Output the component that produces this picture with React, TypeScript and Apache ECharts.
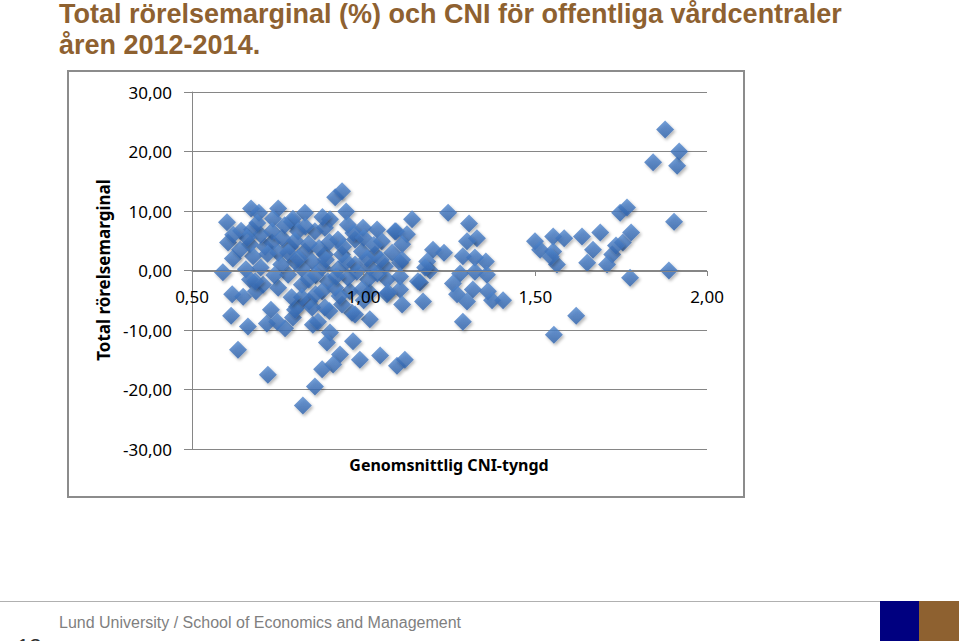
import React, { useEffect, useRef } from 'react';
import * as echarts from 'echarts';

const titleLine1 = 'Total rörelsemarginal (%) och CNI för offentliga vårdcentraler';
const titleLine2 = 'åren 2012-2014.';
const yAxisName = 'Total rörelsemarginal';
const xAxisName = 'Genomsnittlig CNI-tyngd';
const footerText = 'Lund University / School of Economics and Management';
const pageNumber = '12';

const xMin = 0.5;
const xMax = 2.0;
const xStep = 0.5;
const yMin = -30;
const yMax = 30;
const yStep = 10;

const clusterLeft: [number, number][] = [
  [0.602, 8.1], [0.672, 10.4], [0.695, 9.7], [0.751, 10.4], [0.736, 8.7], [0.829, 9.7], [0.794, 8.7],
  [0.917, 12.3], [0.937, 13.3], [0.949, 9.9], [0.643, 6.7], [0.675, 6.9], [0.605, 4.7], [0.619, 2.0],
  [0.590, -0.3], [0.657, 0.2], [0.669, -1.5], [0.617, -4.0], [0.649, -4.4], [0.686, -3.5], [0.707, -2.4],
  [0.751, -2.9], [0.614, -7.6], [0.663, -9.4], [0.718, -8.9], [0.730, -6.6], [0.748, -8.6], [0.771, -9.7],
  [0.806, -6.1], [0.794, -7.9], [0.841, -5.2], [0.852, -9.1], [0.902, -10.4], [0.893, -12.1], [0.969, -11.9],
  [0.931, -14.1], [0.911, -15.8], [0.879, -16.6], [0.989, -15.0], [1.048, -14.3], [1.097, -16.0], [1.120, -15.0],
  [0.634, -13.3], [0.721, -17.5], [0.858, -19.5], [0.823, -22.7], [0.966, -7.1], [1.018, -8.2], [1.018, -3.7],
  [0.960, -3.5], [0.669, 4.4], [0.713, 4.0], [0.678, 2.4], [0.733, 4.7], [0.684, -1.8], [0.800, -6.6],
  [0.780, -0.7], [0.800, 1.5], [0.820, -2.4], [0.820, -4.5], [0.850, -6.2], [0.751, 3.0], [0.785, 4.0],
  [0.829, 3.2], [0.850, 1.5], [0.791, 8.2], [0.858, 6.6], [0.809, 6.6], [0.733, 6.6], [0.762, 5.5],
  [0.902, 8.6], [0.887, 7.2], [0.954, 7.7], [0.998, 7.2], [1.039, 6.9], [1.091, 6.6], [0.925, 5.2],
  [0.975, 5.2], [1.053, 4.9], [0.887, 2.7], [0.937, 2.7], [0.995, 3.2], [1.033, 2.7], [1.083, 3.0],
  [1.106, 1.3], [0.879, 0.5], [0.925, 0.2], [0.975, 1.0], [1.018, 0.5], [1.062, 0.7], [0.896, -1.8],
  [0.954, -1.2], [1.013, -1.5], [1.068, -1.5], [0.879, -3.5], [0.917, -2.9], [0.995, -3.2], [1.068, -4.0],
  [0.887, -6.2], [0.937, -5.7], [0.975, -7.4], [0.867, -8.6],
  [0.80, 5.0], [0.84, 4.5], [0.87, 3.8], [0.90, 4.8], [0.94, 4.0], [0.97, 6.3], [1.00, 5.5], [1.03, 4.3],
  [0.82, 0.3], [0.86, -0.8], [0.92, -1.0], [0.98, -0.2], [1.04, -0.5], [0.89, 1.8], [0.95, 1.5], [1.01, 2.0],
  [1.05, 1.8], [0.83, 7.4], [0.88, 9.0], [0.77, 7.6], [0.70, 6.0], [0.72, 2.8], [0.76, 1.0], [0.70, 0.5],
  [0.74, -0.8], [0.79, -4.5], [0.86, -4.0], [0.93, -4.3], [1.00, -5.0], [0.90, -6.8], [0.64, 3.5],
  [0.66, 5.5], [0.69, 8.0], [0.62, 6.0], [0.78, 3.0], [0.81, 2.0], [0.84, -1.5],
];

const clusterMiddle: [number, number][] = [
  [1.246, 9.7], [1.307, 7.9], [1.330, 5.4], [1.301, 4.9], [1.289, 2.4], [1.324, 2.2], [1.356, 1.5],
  [1.202, 3.5], [1.234, 3.0], [1.193, 0.0], [1.281, -0.5], [1.324, -0.2], [1.359, -0.7], [1.260, -2.2],
  [1.318, -3.2], [1.362, -3.5], [1.272, -4.0], [1.301, -5.2], [1.374, -5.0], [1.406, -5.0], [1.289, -8.6],
  [1.173, -5.2], [1.164, -2.0], [1.185, 1.5], [1.141, 8.6], [1.094, 6.6], [1.126, 6.1], [1.112, 4.4],
  [1.112, 1.8], [1.106, -1.0], [1.106, -3.2], [1.112, -5.7], [1.071, -3.7], [1.179, 0.5], [1.158, -1.8],
];

const clusterRight: [number, number][] = [
  [1.499, 4.9], [1.514, 3.5], [1.552, 5.7], [1.584, 5.4], [1.552, 3.2], [1.563, 1.0], [1.545, 2.3],
  [1.636, 5.7], [1.689, 6.4], [1.668, 3.5], [1.651, 1.3], [1.724, 2.7], [1.709, 1.0], [1.755, 4.7],
  [1.779, 6.4], [1.735, 4.2], [1.747, 9.7], [1.767, 10.6], [1.776, -1.2], [1.619, -7.6], [1.554, -10.8],
  [1.889, 0.0], [1.904, 8.2], [1.843, 18.2], [1.913, 17.6], [1.919, 20.0], [1.878, 23.7],
];

const fmt = (v: number) => v.toFixed(2).replace('.', ',');

export default function App() {
  const ref = useRef<HTMLDivElement>(null);
  useEffect(() => {
    document.body.style.margin = '0';
    const chart = echarts.init(ref.current!, null, { renderer: 'svg' });
    const gray = '#868686';
    chart.setOption({
      animation: false,
      backgroundColor: '#ffffff',
      grid: { left: 192, top: 92, width: 515, height: 357 },
      xAxis: {
        type: 'value',
        min: xMin,
        max: xMax,
        interval: xStep,
        z: 3,
        offset: -178,
        axisLine: { onZero: false, lineStyle: { color: gray, width: 1 } },
        axisTick: { show: true, length: 5, lineStyle: { color: gray } },
        axisLabel: { margin: 17, fontSize: 17, color: '#000', fontFamily: 'Noto Sans', formatter: fmt },
        splitLine: { show: false },
      },
      yAxis: {
        type: 'value',
        min: yMin,
        max: yMax,
        interval: yStep,
        axisLine: { show: true, onZero: false, lineStyle: { color: gray, width: 1 } },
        axisTick: { show: true, length: 8, lineStyle: { color: gray } },
        axisLabel: { margin: 20, fontSize: 17, color: '#000', fontFamily: 'Noto Sans', formatter: fmt },
        splitLine: { show: true, lineStyle: { color: gray, width: 1 } },
      },
      series: [clusterLeft, clusterMiddle, clusterRight].map((d) => ({
        type: 'scatter',
        symbol: 'diamond',
        symbolSize: 18,
        data: d,
        itemStyle: {
          color: new echarts.graphic.LinearGradient(0, 0, 0, 1, [
            { offset: 0, color: '#5288cf' },
            { offset: 1, color: '#2f62ab' },
          ]),
          shadowBlur: 3,
          shadowOffsetX: 1.5,
          shadowOffsetY: 2,
          shadowColor: 'rgba(0,0,0,0.35)',
        },
      })),
      graphic: [
        {
          type: 'rect', z: -1, silent: true,
          shape: { x: 68, y: 71, width: 676, height: 426 },
          style: { fill: 'none', stroke: '#8c8c8c', lineWidth: 2 },
        },
        {
          type: 'text', x: 59, y: 0,
          style: { text: titleLine1, font: 'bold 27px "Liberation Sans", Arial, sans-serif', fill: '#8e6130', verticalAlign: 'top' },
        },
        {
          type: 'text', x: 59, y: 31,
          style: { text: titleLine2, font: 'bold 27px "Liberation Sans", Arial, sans-serif', fill: '#8e6130', verticalAlign: 'top' },
        },
        {
          type: 'text', x: 103, y: 270, rotation: Math.PI / 2,
          style: { text: yAxisName, font: 'bold 17px "Noto Sans", sans-serif', fill: '#000', align: 'center', verticalAlign: 'middle' },
        },
        {
          type: 'text', x: 449, y: 465,
          style: { text: xAxisName, font: 'bold 16px "Noto Sans", sans-serif', fill: '#000', align: 'center', verticalAlign: 'middle' },
        },
        {
          type: 'line',
          shape: { x1: 0, y1: 601.5, x2: 880, y2: 601.5 },
          style: { stroke: '#b0b0b0', lineWidth: 1 },
        },
        {
          type: 'rect',
          shape: { x: 880, y: 601, width: 39, height: 40 },
          style: { fill: '#000080' },
        },
        {
          type: 'rect',
          shape: { x: 919, y: 601, width: 40, height: 40 },
          style: { fill: '#8e6130' },
        },
        {
          type: 'text', x: 59, y: 622,
          style: { text: footerText, font: '16px "Liberation Sans", Arial, sans-serif', fill: '#7f7f7f', verticalAlign: 'middle' },
        },
        {
          type: 'text', x: 17, y: 646,
          style: { text: pageNumber, font: '22px "Liberation Sans", Arial, sans-serif', fill: '#333', verticalAlign: 'middle' },
        },
      ],
    });
    return () => chart.dispose();
  }, []);
  return <div ref={ref} style={{ width: 959, height: 641 }} />;
}
